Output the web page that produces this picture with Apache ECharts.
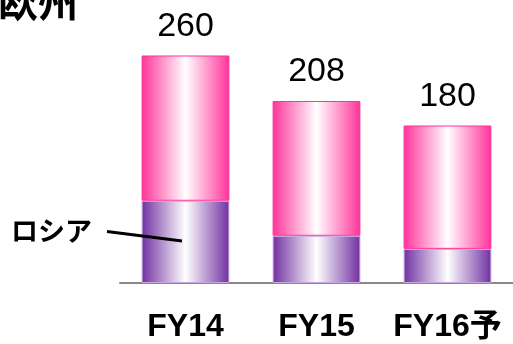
<!DOCTYPE html>
<html>
<head>
<meta charset="utf-8">
<script src="https://cdn.jsdelivr.net/npm/echarts@6/dist/echarts.min.js"></script>
<style>
  html, body { margin: 0; padding: 0; background: #fff; }
  #chart { width: 513px; height: 344px; }
</style>
</head>
<body>
<div id="chart"></div>
<script>
// Europe sales by fiscal year, with the Russia share at the bottom of each bar
const categories = ['FY14', 'FY15', 'FY16予'];
const totals = [260, 208, 180];
const russia = [94, 54, 39];
const others = totals.map((t, i) => t - russia[i]);

function barGradient(edge) {
  return new echarts.graphic.LinearGradient(0, 0, 1, 0, [
    { offset: 0, color: edge },
    { offset: 0.5, color: '#ffffff' },
    { offset: 1, color: edge }
  ]);
}

const chart = echarts.init(document.getElementById('chart'), null, { renderer: 'canvas' });

chart.setOption({
  animation: false,
  grid: { left: 120, right: -4, top: 20.5, bottom: 61 },
  xAxis: {
    type: 'category',
    data: categories,
    axisLine: { show: true, lineStyle: { color: '#888888', width: 2 } },
    axisTick: { show: false },
    axisLabel: {
      interval: 0,
      hideOverlap: false,
      margin: 28,
      color: '#000',
      fontSize: 32,
      fontWeight: 'bold',
      fontFamily: '"Liberation Sans", Arial, "Noto Sans CJK JP", sans-serif'
    }
  },
  yAxis: {
    type: 'value',
    min: 0,
    max: 300,
    show: false,
    splitLine: { show: false }
  },
  series: [
    {
      name: 'ロシア',
      type: 'bar',
      stack: 'europe',
      barWidth: '67%',
      data: russia,
      itemStyle: {
        color: barGradient('#7030a0'),
        borderColor: '#c8a8e0',
        borderWidth: 1
      }
    },
    {
      name: 'その他',
      type: 'bar',
      stack: 'europe',
      barWidth: '67%',
      data: others,
      itemStyle: {
        color: barGradient('#ff3399'),
        borderColor: '#ff3399',
        borderWidth: 1
      },
      label: {
        show: true,
        position: 'top',
        distance: 12,
        color: '#000',
        fontSize: 34,
        fontFamily: '"Liberation Sans", Arial, sans-serif',
        formatter: p => String(totals[p.dataIndex])
      }
    }
  ],
  graphic: [
    {
      type: 'text',
      left: -2,
      top: -18,
      style: {
        text: '欧州',
        fontSize: 40,
        fontWeight: 'bold',
        fill: '#000',
        fontFamily: '"Noto Sans CJK JP", sans-serif'
      }
    },
    {
      type: 'text',
      left: 11,
      top: 217,
      style: {
        text: 'ロシア',
        fontSize: 27,
        fontWeight: 'bold',
        fill: '#000',
        fontFamily: '"Noto Sans CJK JP", sans-serif'
      }
    },
    {
      type: 'line',
      shape: { x1: 107, y1: 231.5, x2: 182, y2: 241 },
      style: { stroke: '#000', lineWidth: 3 },
      z: 100
    }
  ]
});
</script>
</body>
</html>
